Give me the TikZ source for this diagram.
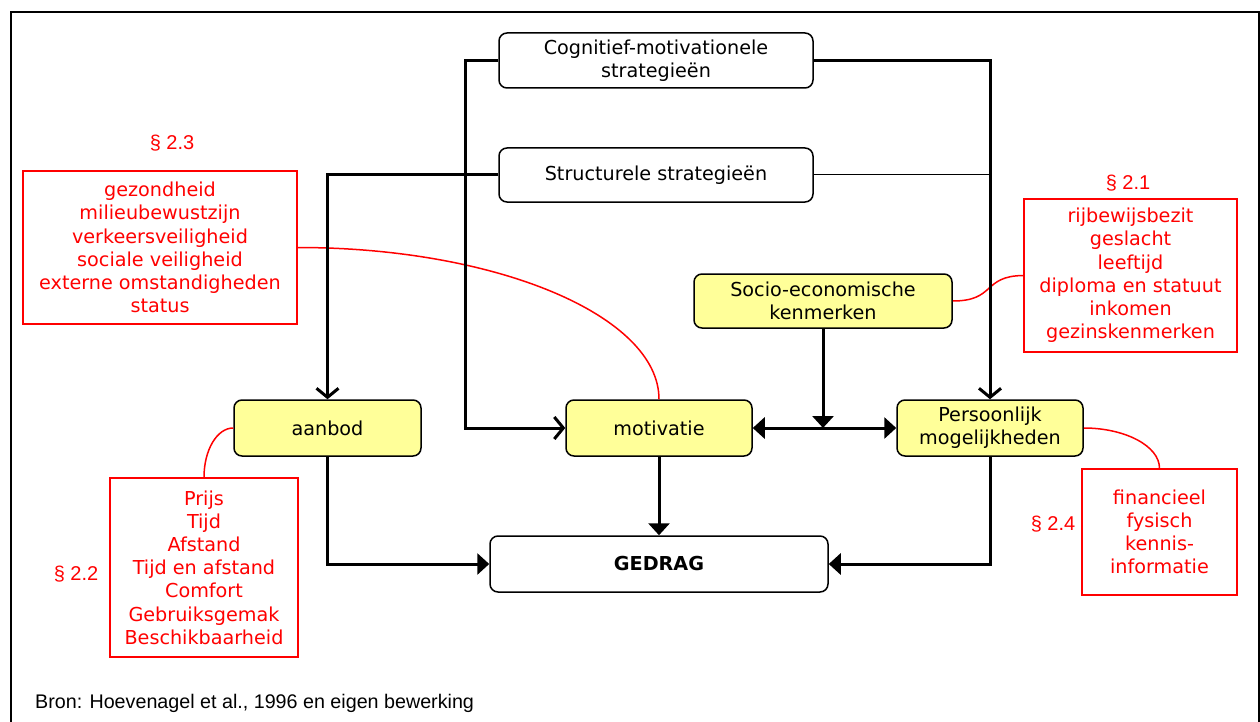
\documentclass[tikz,border=0pt]{standalone}
\usepackage{fontspec}
\setmainfont{DejaVu Sans}
\newfontfamily\arialf{Liberation Sans}
\usetikzlibrary{arrows.meta}
\definecolor{boxyellow}{RGB}{255,255,153}
\tikzset{
  txt/.style={font=\fontsize{19.2}{23.2}\selectfont},
  flow/.style={draw, rounded corners=8pt, line width=1.5pt, align=center, txt, inner sep=0pt},
  plainbox/.style={flow, fill=white},
  yelbox/.style={flow, fill=boxyellow},
  redbox/.style={draw=red, line width=1.5pt, text=red, align=center, txt, inner sep=0pt},
  redlink/.style={draw=red, line width=1.5pt},
  seclabel/.style={text=red, font=\arialf\fontsize{20}{23}\selectfont, inner sep=0pt},
  conn/.style={line width=3pt},
  openhead/.style={conn, -{Straight Barb[length=9pt,width=22pt,line width=3pt]}},
  solidhead/.style={conn, -{Triangle[length=12pt,width=21pt]}},
  twohead/.style={conn, {Triangle[length=12pt,width=21pt]}-{Triangle[length=12pt,width=21pt]}}
}
\begin{document}
\begin{tikzpicture}[x=1pt,y=-1pt]
\useasboundingbox (0,0) rectangle (1260,722);
\draw[line width=2pt] (11,722) -- (11,12) -- (1258.5,12) -- (1258.5,722);

% strategy and factor boxes
\node[plainbox, minimum width=314pt, minimum height=55pt] (cog) at (656,60.5) {Cognitief-motivationele\\strategieën};
\node[plainbox, minimum width=314pt, minimum height=54pt] (str) at (656,175) {Structurele strategieën};
\node[yelbox, minimum width=258pt, minimum height=54pt] (soc) at (823,301) {Socio-economische\\kenmerken};
\node[yelbox, minimum width=187pt, minimum height=56pt] (aan) at (327.5,428) {aanbod};
\node[yelbox, minimum width=186pt, minimum height=56pt] (mot) at (659,428) {motivatie};
\node[yelbox, minimum width=186pt, minimum height=56pt] (per) at (990,428) {Persoonlijk\\mogelijkheden};
\node[plainbox, minimum width=338pt, minimum height=56pt, font=\bfseries\fontsize{19.2}{23}\selectfont] (ged) at (659,564) {GEDRAG};

% red detail boxes
\node[redbox, minimum width=274pt, minimum height=153pt] (r1) at (160,247.5) {gezondheid\\milieubewustzijn\\verkeersveiligheid\\sociale veiligheid\\externe omstandigheden\\status};
\node[redbox, minimum width=213pt, minimum height=153pt] (r2) at (1130.5,275.5) {rijbewijsbezit\\geslacht\\leeftijd\\diploma en statuut\\inkomen\\gezinskenmerken};
\node[redbox, minimum width=188pt, minimum height=179pt] (r3) at (204,567.5) {Prijs\\Tijd\\Afstand\\Tijd en afstand\\Comfort\\Gebruiksgemak\\Beschikbaarheid};
\node[redbox, minimum width=155pt, minimum height=126pt] (r4) at (1159.5,532) {financieel\\fysisch\\kennis-\\informatie};

\node[seclabel] (s23) at (172,143) {§ 2.3};
\node[seclabel] (s21) at (1128,183) {§ 2.1};
\node[seclabel] (s22) at (76,574) {§ 2.2};
\node[seclabel] (s24) at (1053,524) {§ 2.4};

% red links
\draw[redlink] (r1.east) .. controls (497,247.5) and (659,316) .. (mot.north);
\draw[redlink] (soc.east) .. controls (996,301) and (982,276) .. (r2.west);
\draw[redlink] (aan.west) .. controls (217,428) and (204,450) .. (r3.north);
\draw[redlink] (per.east) .. controls (1125,428) and (1159.5,446) .. (r4.north);

% black connectors
\coordinate (cl) at (465,250);
\draw[openhead] (cog.west) -| (cl) |- (mot.west);
\draw[openhead] (cog.east) -| (per.north);
\draw[openhead] (str.west) -| (aan.north);
\draw[line width=1pt] (str.east) -- (str.east -| per.north);
\draw[solidhead] (soc.south) -- (soc.south |- mot.east);
\draw[twohead] (mot.east) -- (per.west);
\draw[solidhead] (aan.south) |- (ged.west);
\draw[solidhead] (mot.south) -- (ged.north);
\draw[solidhead] (per.south) |- (ged.east);

\node[anchor=west, inner sep=0pt, font=\arialf\fontsize{19.7}{23}\selectfont] (src) at (35,703) {Bron: Hoevenagel et al., 1996 en eigen bewerking};
\end{tikzpicture}
\end{document}
